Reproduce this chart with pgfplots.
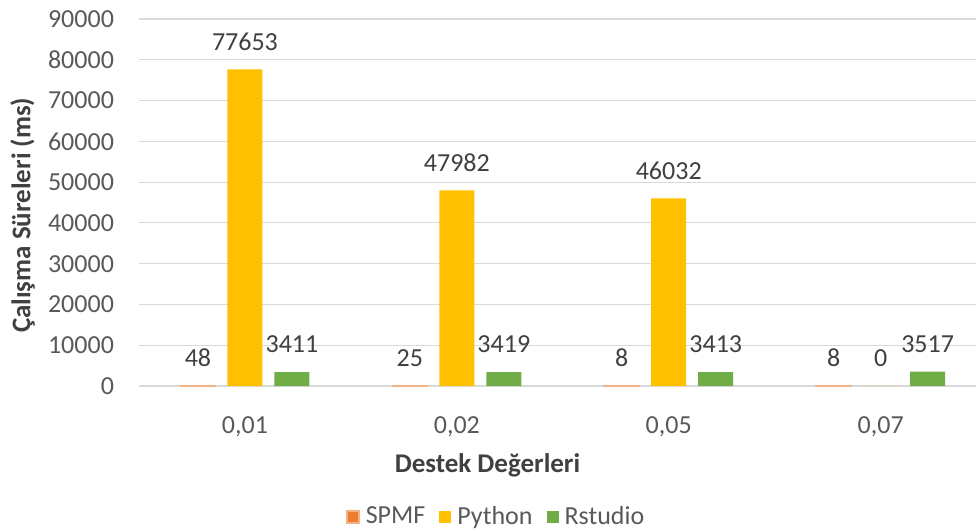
\documentclass[border=0pt]{standalone}
\usepackage{pgfplots}
\pgfplotsset{compat=1.18}
\usepackage{fontspec}
\setmainfont{Carlito}
\definecolor{spmf}{HTML}{ED7D31}
\definecolor{python}{HTML}{FFC000}
\definecolor{rstudio}{HTML}{70AD47}
\definecolor{tickgray}{HTML}{595959}
\definecolor{valgray}{HTML}{404040}
\definecolor{gridgray}{HTML}{D9D9D9}
\begin{document}
\begin{tikzpicture}
\begin{axis}[
  at={(0,0)}, anchor=south west,
  scale only axis, width=418.5pt, height=183.5pt,
  ybar=6pt, bar width=17.5pt,
  xmin=-0.5, xmax=3.45, ymin=0, ymax=90000,
  xtick={0,1,2,3}, xticklabels={{0,01},{0,02},{0,05},{0,07}},
  ytick={0,10000,...,90000},
  scaled y ticks=false,
  /pgf/number format/1000 sep={},
  /pgf/number format/assume math mode=true,
  ymajorgrids, grid style={gridgray, line width=0.6pt},
  axis line style={draw=none},
  major tick length=0pt,
  tick label style={font=\fontsize{13}{15}\selectfont, text=tickgray},
  yticklabel style={xshift=-9pt},
  xticklabel style={yshift=-12pt},
  nodes near coords,
  point meta=rawy,
  nodes near coords style={font=\fontsize{13}{15}\selectfont, text=valgray, anchor=south, yshift=6pt},
  xlabel={Destek Değerleri},
  xlabel style={at={(axis description cs:0.4164,-0.215)}, anchor=center, font=\bfseries\fontsize{13.5}{16}\selectfont, text=valgray},
  ylabel={Çalışma Süreleri (ms)},
  ylabel style={at={(axis description cs:-0.139,0.465)}, anchor=center, font=\bfseries\fontsize{13.5}{16}\selectfont, text=valgray},
  legend style={at={(axis description cs:0.428,-0.357)}, anchor=center, legend columns=3, draw=none, fill=none,
    font=\fontsize{13}{15}\selectfont, text=tickgray,
    /tikz/every odd column/.append style={column sep=1pt},
    /tikz/every even column/.append style={column sep=5pt}},
  legend image code/.code={\fill[#1] (0pt,-3pt) rectangle (6pt,3pt);},
]
\addplot[fill=spmf, draw=spmf!60, line width=0.8pt] coordinates {(0,48) (1,25) (2,8) (3,8)};
\addplot[fill=python, draw=none] coordinates {(0,77653) (1,47982) (2,46032) (3,0)};
\addplot[fill=rstudio, draw=none] coordinates {(0,3411) (1,3419) (2,3413) (3,3517)};
\legend{SPMF, Python, Rstudio}
\end{axis}
\pgfresetboundingbox
\path[use as bounding box] (-69.5pt,-72.5pt) rectangle (418.5pt,193pt);
\end{tikzpicture}
\end{document}
